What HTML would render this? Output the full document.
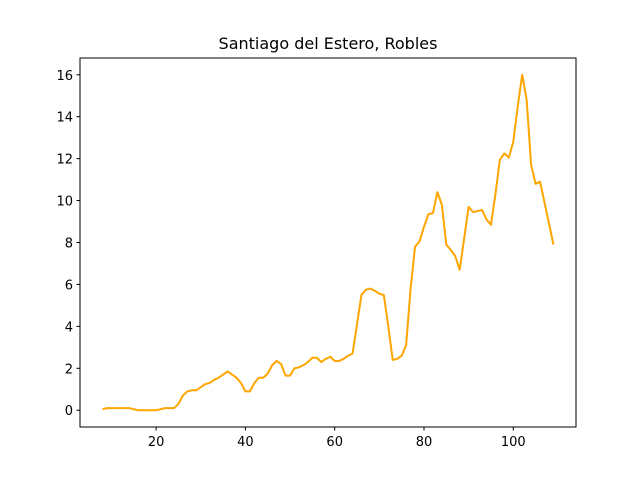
<!DOCTYPE html>
<html><head><meta charset="utf-8"><style>
body{margin:0;background:#fff;}
svg{font-family:"DejaVu Sans","Liberation Sans",sans-serif;}
</style></head><body>
<svg id="chart" width="640" height="480" xmlns="http://www.w3.org/2000/svg">
<rect width="640" height="480" fill="#fff"/>
<text x="328" y="49" font-size="16" text-anchor="middle">Santiago del Estero, Robles</text>
<g id="ticks"></g>
<polyline id="line" fill="none" stroke="#ffa500" stroke-width="2" stroke-linejoin="round"/>
<rect x="80" y="58" width="496" height="369" fill="none" stroke="#000" stroke-width="1"/>
</svg>
<script>
const xStart = 8;
const values = [0.05,0.1,0.1,0.1,0.1,0.1,0.1,0.05,0,0,0,0,0,0.05,0.1,0.1,0.1,0.3,0.7,0.9,0.95,0.95,1.1,1.25,1.3,1.45,1.55,1.7,1.85,1.7,1.55,1.3,0.9,0.9,1.3,1.55,1.55,1.75,2.15,2.35,2.2,1.65,1.65,2.0,2.05,2.15,2.3,2.5,2.5,2.3,2.45,2.55,2.35,2.35,2.45,2.6,2.7,4.1,5.5,5.75,5.8,5.7,5.55,5.5,4.0,2.4,2.45,2.6,3.1,5.8,7.8,8.05,8.75,9.35,9.4,10.4,9.8,7.9,7.65,7.35,6.7,8.2,9.7,9.45,9.5,9.55,9.1,8.85,10.3,11.95,12.25,12.05,12.8,14.5,16.0,14.8,11.7,10.8,10.9,9.9,8.9,7.9];
const xTicks = [20,40,60,80,100];
const yTicks = [0,2,4,6,8,10,12,14,16];
const xs = values.map((v,i)=>xStart+i);
const xmin=Math.min(...xs), xmax=Math.max(...xs);
const xpad=(xmax-xmin)*0.05;
const ymin=Math.min(...values), ymax=Math.max(...values), ypad=(ymax-ymin)*0.05;
const X=v=>80+(v-(xmin-xpad))/((xmax+xpad)-(xmin-xpad))*496;
const Y=v=>427-(v-(ymin-ypad))/((ymax+ypad)-(ymin-ypad))*369;
const NS="http://www.w3.org/2000/svg";
const line=document.getElementById('line');
line.setAttribute('points', values.map((v,i)=>X(xs[i]).toFixed(2)+','+Y(v).toFixed(2)).join(' '));
const g=document.getElementById('ticks');
xTicks.forEach(t=>{
  const l=document.createElementNS(NS,'line');
  
  
  l.setAttribute('x1',X(t));l.setAttribute('x2',X(t));l.setAttribute('y1',427);l.setAttribute('y2',430.5);l.setAttribute('stroke','#000');
  g.appendChild(l);
  const tx=document.createElementNS(NS,'text');
  
  
  tx.setAttribute('x',X(t));tx.setAttribute('y',446);tx.setAttribute('font-size','13');tx.setAttribute('text-anchor','middle');
  tx.textContent=t;g.appendChild(tx);
});
yTicks.forEach(t=>{
  const l=document.createElementNS(NS,'line');
  
  
  l.setAttribute('x1',76.5);l.setAttribute('x2',80);l.setAttribute('y1',Y(t));l.setAttribute('y2',Y(t));l.setAttribute('stroke','#000');
  g.appendChild(l);
  const tx=document.createElementNS(NS,'text');
  
  
  tx.setAttribute('x',73);tx.setAttribute('y',Y(t)+5);tx.setAttribute('font-size','13');tx.setAttribute('text-anchor','end');
  tx.textContent=t;g.appendChild(tx);
});
</script>
</body></html>
